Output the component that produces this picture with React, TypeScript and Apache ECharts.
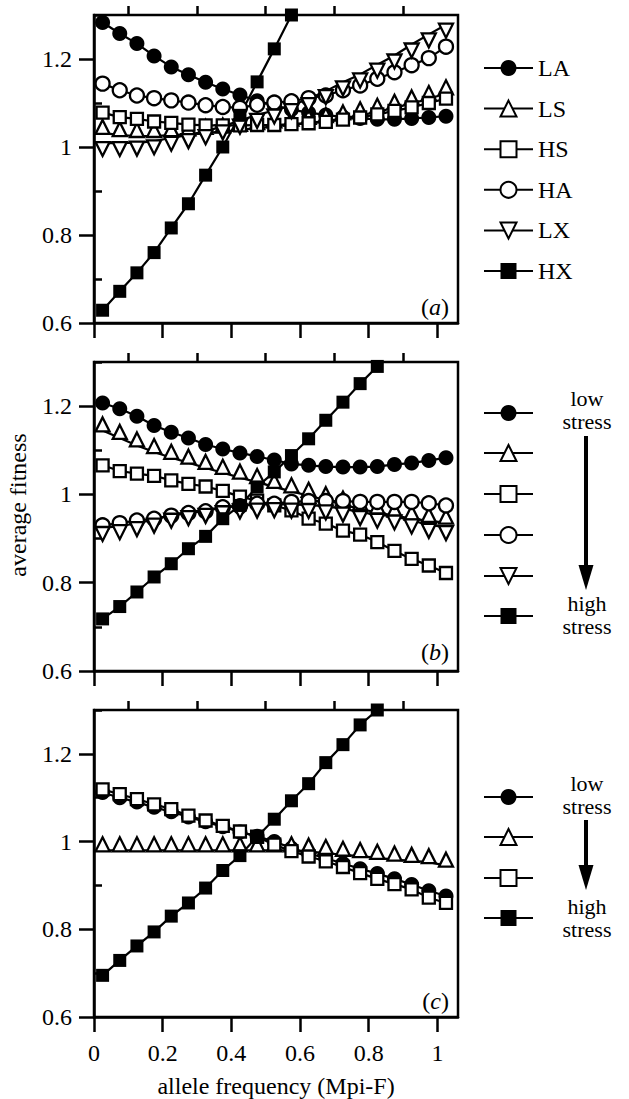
import React, { useEffect, useRef } from 'react';
import * as echarts from 'echarts';

const FONT = 'Liberation Serif, Times New Roman, Times, serif';
const FS = 24;

// allele frequency sample points
const XS = [0.025, 0.075, 0.125, 0.175, 0.225, 0.275, 0.325, 0.375, 0.425, 0.475, 0.525, 0.575, 0.625, 0.675, 0.725, 0.775, 0.825, 0.875, 0.925, 0.975, 1.025];

// tick values
const Y_MAJOR = [0.6, 0.8, 1, 1.2];
const Y_MINOR = [0.7, 0.9, 1.1, 1.3];
const X_MAJOR = [0, 0.2, 0.4, 0.6, 0.8, 1];
const X_MINOR = [0.1, 0.3, 0.5, 0.7, 0.9];

// panel (a)
const LA_A = [1.283, 1.258, 1.235, 1.207, 1.182, 1.164, 1.147, 1.132, 1.118, 1.105, 1.095, 1.085, 1.078, 1.073, 1.068, 1.065, 1.063, 1.063, 1.065, 1.067, 1.070];
const LS_A = [1.032, 1.027, 1.025, 1.025, 1.027, 1.029, 1.032, 1.035, 1.039, 1.043, 1.047, 1.051, 1.055, 1.059, 1.065, 1.072, 1.080, 1.089, 1.099, 1.109, 1.122];
const HS_A = [1.078, 1.068, 1.064, 1.058, 1.055, 1.051, 1.049, 1.049, 1.049, 1.050, 1.050, 1.052, 1.054, 1.057, 1.062, 1.067, 1.074, 1.082, 1.090, 1.100, 1.110];
const HA_A = [1.144, 1.129, 1.117, 1.111, 1.106, 1.101, 1.095, 1.091, 1.089, 1.096, 1.101, 1.104, 1.111, 1.117, 1.129, 1.140, 1.155, 1.170, 1.186, 1.202, 1.228];
const LX_A = [1.009, 1.009, 1.010, 1.013, 1.021, 1.027, 1.036, 1.047, 1.060, 1.073, 1.083, 1.095, 1.109, 1.127, 1.147, 1.165, 1.187, 1.208, 1.233, 1.256, 1.278];
const HX_A = [0.629, 0.672, 0.714, 0.760, 0.816, 0.871, 0.936, 1.000, 1.072, 1.148, 1.223, 1.300];

// panel (b)
const LA_B = [1.207, 1.194, 1.177, 1.156, 1.141, 1.128, 1.113, 1.103, 1.094, 1.086, 1.078, 1.069, 1.066, 1.063, 1.062, 1.062, 1.063, 1.068, 1.071, 1.077, 1.083];
const LS_B = [1.145, 1.128, 1.111, 1.096, 1.083, 1.072, 1.060, 1.049, 1.038, 1.028, 1.017, 1.007, 0.997, 0.987, 0.977, 0.967, 0.959, 0.952, 0.945, 0.940, 0.936];
const HS_B = [1.066, 1.053, 1.047, 1.042, 1.032, 1.024, 1.018, 1.008, 0.995, 0.986, 0.975, 0.964, 0.945, 0.934, 0.918, 0.909, 0.892, 0.872, 0.854, 0.839, 0.822];
const HA_B = [0.930, 0.935, 0.941, 0.945, 0.952, 0.958, 0.962, 0.971, 0.973, 0.979, 0.979, 0.983, 0.985, 0.985, 0.985, 0.983, 0.983, 0.983, 0.983, 0.980, 0.975];
const LX_B = [0.924, 0.928, 0.935, 0.943, 0.954, 0.960, 0.965, 0.971, 0.975, 0.977, 0.978, 0.977, 0.976, 0.973, 0.968, 0.960, 0.954, 0.950, 0.941, 0.931, 0.926];
const HX_B = [0.718, 0.746, 0.779, 0.813, 0.843, 0.877, 0.905, 0.945, 0.975, 1.017, 1.051, 1.088, 1.126, 1.168, 1.209, 1.251, 1.290];

// panel (c)
const LA_C = [1.112, 1.100, 1.090, 1.078, 1.068, 1.056, 1.045, 1.034, 1.022, 1.012, 1.000, 0.985, 0.973, 0.962, 0.950, 0.938, 0.927, 0.915, 0.902, 0.888, 0.876];
const LS_C = [0.980, 0.980, 0.980, 0.980, 0.980, 0.980, 0.980, 0.980, 0.980, 0.980, 0.980, 0.980, 0.977, 0.974, 0.970, 0.967, 0.963, 0.959, 0.956, 0.953, 0.945];
const HS_C = [1.119, 1.108, 1.097, 1.085, 1.074, 1.059, 1.048, 1.036, 1.023, 1.011, 0.993, 0.978, 0.966, 0.955, 0.942, 0.928, 0.915, 0.903, 0.891, 0.872, 0.860];
const HX_C = [0.695, 0.729, 0.762, 0.794, 0.830, 0.860, 0.894, 0.934, 0.968, 1.011, 1.051, 1.093, 1.132, 1.180, 1.221, 1.266, 1.300];

const PANELS = [
  { LA: LA_A, LS: LS_A, HS: HS_A, HA: HA_A, LX: LX_A, HX: HX_A },
  { LA: LA_B, LS: LS_B, HS: HS_B, HA: HA_B, LX: LX_B, HX: HX_B },
  { LA: LA_C, LS: LS_C, HS: HS_C, HX: HX_C },
];

const NAMES_ALL = ['LA', 'LS', 'HS', 'HA', 'LX', 'HX'];
const NAMES_C = ['LA', 'LS', 'HS', 'HX'];

const SYM: Record<string, { symbol: string; size: number; fill: string; offset: number }> = {
  LA: { symbol: 'circle', size: 15, fill: '#000', offset: 0 },
  LS: { symbol: 'triangle', size: 14, fill: '#fff', offset: -6 },
  HS: { symbol: 'rect', size: 12, fill: '#fff', offset: 0 },
  HA: { symbol: 'circle', size: 14, fill: '#fff', offset: 0 },
  LX: { symbol: 'path://M0,0 L10,0 L5,9 Z', size: 14, fill: '#fff', offset: 6 },
  HX: { symbol: 'rect', size: 13, fill: '#000', offset: 0 },
};

const GRIDS = [
  { left: 94, top: 15, width: 364, height: 308 },
  { left: 94, top: 362, width: 364, height: 309 },
  { left: 94, top: 710, width: 364, height: 308 },
];

export default function App() {
  const ref = useRef<HTMLDivElement>(null);
  useEffect(() => {
    if (!ref.current) return;
    const chart = echarts.init(ref.current, undefined, { renderer: 'svg' });

    const xAxes: any[] = [];
    const yAxes: any[] = [];
    GRIDS.forEach((_, p) => {
      const last = p === 2;
      xAxes.push({
        type: 'value', gridIndex: p, min: 0, max: 1.06,
        axisLine: { show: true, lineStyle: { color: '#000', width: 2.5 } },
        axisTick: { show: true, customValues: X_MAJOR, length: 15, lineStyle: { color: '#000', width: 2.5 } },
        axisLabel: last
          ? { show: true, customValues: X_MAJOR, margin: 24, color: '#000', fontFamily: FONT, fontSize: FS, formatter: (v: number) => String(v) }
          : { show: false },
        splitLine: { show: false },
        name: last ? 'allele frequency (Mpi-F)' : '',
        nameLocation: 'middle', nameGap: 57,
        nameTextStyle: { color: '#000', fontFamily: FONT, fontSize: FS },
      });
      xAxes.push({
        type: 'value', gridIndex: p, min: 0, max: 1.06,
        axisLine: { show: false },
        axisTick: { show: true, customValues: X_MINOR, length: 9, lineStyle: { color: '#000', width: 2.5 } },
        axisLabel: { show: false }, splitLine: { show: false },
      });
      yAxes.push({
        type: 'value', gridIndex: p, min: 0.6, max: 1.3,
        axisLine: { show: true, lineStyle: { color: '#000', width: 2.5 } },
        axisTick: { show: true, customValues: Y_MAJOR, length: 15, lineStyle: { color: '#000', width: 2.5 } },
        axisLabel: { show: true, customValues: Y_MAJOR, margin: 22, color: '#000', fontFamily: FONT, fontSize: FS, formatter: (v: number) => String(v) },
        splitLine: { show: false },
      });
      yAxes.push({
        type: 'value', gridIndex: p, min: 0.6, max: 1.3,
        axisLine: { show: false },
        axisTick: { show: true, customValues: Y_MINOR, length: 8, lineStyle: { color: '#000', width: 2.5 } },
        axisLabel: { show: false }, splitLine: { show: false },
      });
    });

    const series: any[] = [];
    PANELS.forEach((panel: any, p) => {
      NAMES_ALL.forEach((name) => {
        const vals: number[] | undefined = panel[name];
        if (!vals) return;
        const s = SYM[name];
        series.push({
          type: 'line', name, xAxisIndex: 2 * p, yAxisIndex: 2 * p,
          data: vals.map((v, i) => [XS[i], v]),
          symbol: s.symbol, symbolSize: s.size, symbolOffset: [0, s.offset], showSymbol: true,
          clip: false,
          lineStyle: { color: '#000', width: 2.2 },
          itemStyle: { color: s.fill, borderColor: '#000', borderWidth: s.fill === '#fff' ? 2.3 : 0 },
          emphasis: { disabled: true },
          silent: true,
          z: 3,
        });
      });
    });

    const legendBase = {
      orient: 'vertical', left: 483, itemWidth: 49, itemHeight: 20, padding: 0,
      selectedMode: false,
      textStyle: { color: '#000', fontFamily: FONT, fontSize: FS, lineHeight: 20 },
    };

    const SFS = 22;
    const txt2 = (text: string, x: number, y: number) => ({
      type: 'text', x, y,
      style: { text, fill: '#000', font: `${SFS}px ${FONT}`, lineHeight: 23, align: 'center', verticalAlign: 'middle' },
    });

    const panelLabel = (letter: string, y: number) => ({
      type: 'text', x: 449, y,
      style: {
        text: `({i|${letter}})`, fill: '#000', font: `${FS}px ${FONT}`, align: 'right', verticalAlign: 'middle',
        rich: { i: { fontStyle: 'italic', fontFamily: FONT, fontSize: FS, fill: '#000' } },
      },
    });

    const graphic: any[] = [
      { type: 'text', x: 18, y: 505, rotation: Math.PI / 2,
        style: { text: 'average fitness', fill: '#000', font: `${FS}px ${FONT}`, align: 'center', verticalAlign: 'middle' } },
      panelLabel('a', 307),
      panelLabel('b', 652),
      panelLabel('c', 1001),
      txt2('low\nstress', 587, 409.5),
      { type: 'rect', shape: { x: 584, y: 436, width: 4, height: 132 }, style: { fill: '#000' } },
      { type: 'polygon', shape: { points: [[578.5, 565], [593.5, 565], [586, 590]] }, style: { fill: '#000' } },
      txt2('high\nstress', 587, 615),
      txt2('low\nstress', 587, 794.5),
      { type: 'rect', shape: { x: 584, y: 820, width: 4, height: 48 }, style: { fill: '#000' } },
      { type: 'polygon', shape: { points: [[578.5, 865], [593.5, 865], [586, 890]] }, style: { fill: '#000' } },
      txt2('high\nstress', 587, 917.5),
    ];

    chart.setOption({
      animation: false,
      backgroundColor: '#fff',
      textStyle: { fontFamily: FONT },
      grid: GRIDS.map((g) => ({ ...g, show: true, borderColor: '#000', borderWidth: 2.5, backgroundColor: 'transparent' })),
      xAxis: xAxes,
      yAxis: yAxes,
      legend: [
        { ...legendBase, data: NAMES_ALL, top: 56, itemGap: 16.6 },
        { ...legendBase, data: NAMES_ALL, top: 405, itemGap: 23 },
        { ...legendBase, data: NAMES_C, top: 789, itemGap: 23 },
      ].map((l, k) => (k > 0 ? { ...l, formatter: () => '' } : l)),
      series,
      graphic,
    });
    return () => chart.dispose();
  }, []);
  return <div ref={ref} style={{ position: 'absolute', left: 0, top: 0, width: 629, height: 1099 }} />;
}
